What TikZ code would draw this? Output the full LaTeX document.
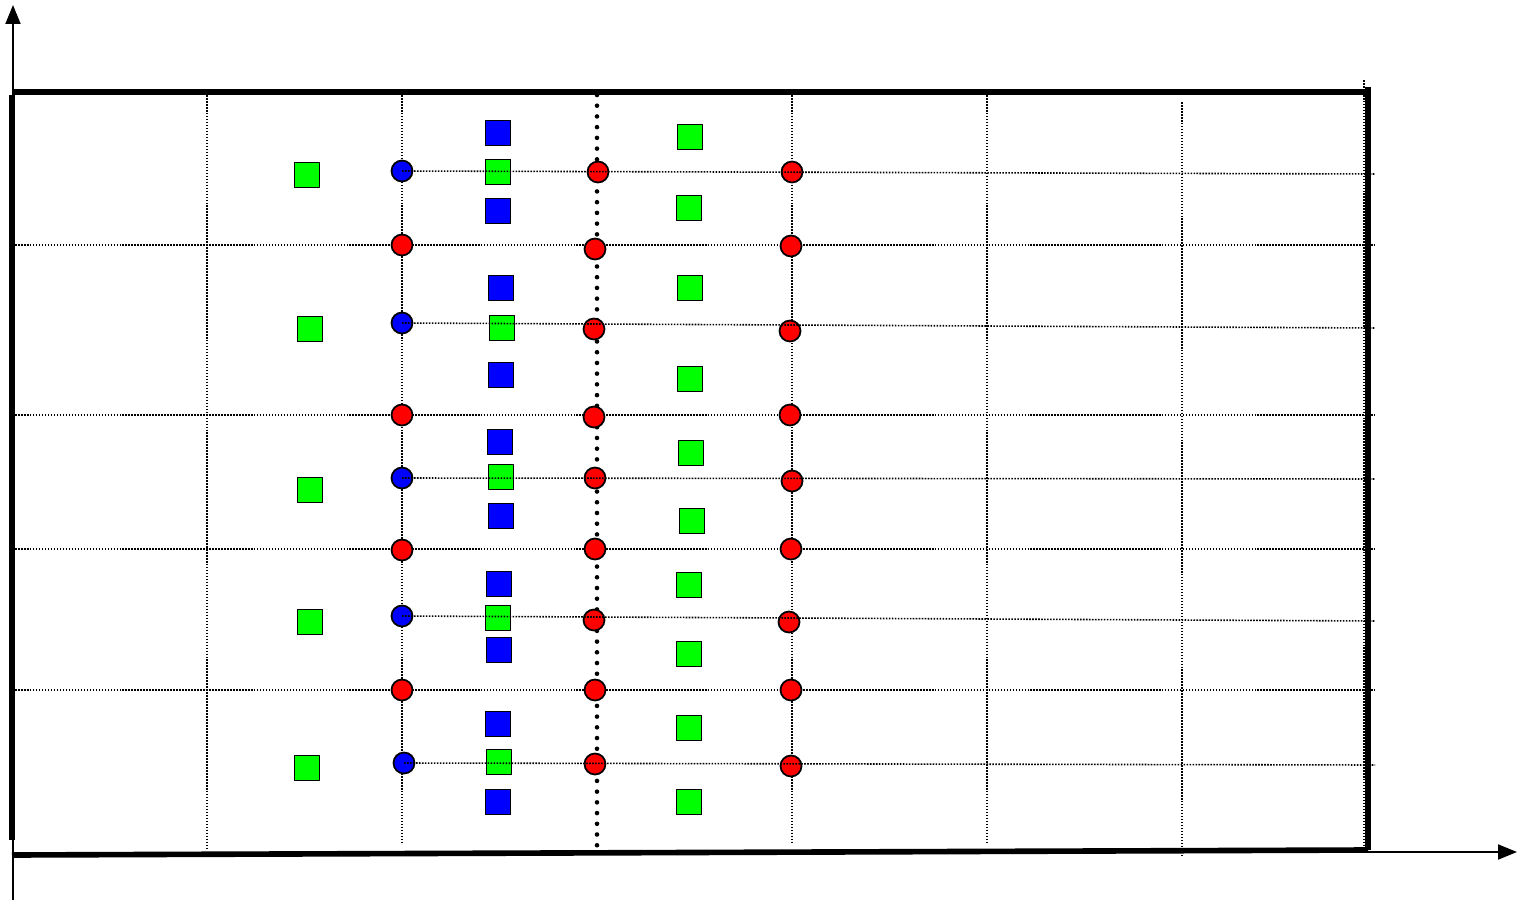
\documentclass[tikz,border=0pt]{standalone}
\usetikzlibrary{arrows.meta}

\definecolor{sqgreen}{RGB}{0,255,0}
\definecolor{sqblue}{RGB}{0,0,255}
\definecolor{dotred}{RGB}{255,0,0}

\tikzset{
    gridline/.style={line width=0.9pt, dash pattern=on 0.9pt off 0.8pt},
    bigdots/.style={line width=2.6pt, line cap=round, dash pattern=on 0pt off 6.1pt},
    frame/.style={line width=3.2pt},
    axis/.style={line width=1.1pt, -{Triangle[length=0.38cm, width=0.3cm]}},
    gsq/.style={draw, line width=1pt, fill=sqgreen, minimum size=0.5cm, inner sep=0pt},
    bsq/.style={draw, line width=1pt, fill=sqblue, minimum size=0.5cm, inner sep=0pt},
    bcirc/.style={draw, circle, line width=1pt, fill=sqblue, minimum size=0.42cm, inner sep=0pt},
    rcirc/.style={draw, circle, line width=1pt, fill=dotred, minimum size=0.42cm, inner sep=0pt}
}

\begin{document}
\begin{tikzpicture}[x=0.02cm, y=-0.02cm]
    \useasboundingbox (0,0) rectangle (1525,906);

    % Rejilla de fondo
    \foreach \x/\ya/\yb in {207/92/850, 402/92/842, 792/92/843, 987/92/843, 1182/102/856, 1364/80/850} {
        \draw[gridline] (\x,\ya) -- (\x,\yb);
    }
    \foreach \y in {245,415,549,690} {
        \draw[gridline] (9,\y) -- (1375,\y);
    }
    \draw[bigdots] (597,95) -- (597,850);

    % Ejes
    \draw[axis] (13,900) -- (13,5);
    \draw[axis] (1368,852) -- (1517,852);

    % Marco
    \draw[frame] (12,92) -- (1370,92);
    \draw[frame] (12,95) -- (12,840);
    \draw[frame] (1368,87) -- (1368,850);
    \draw[frame] (12,855) -- (1368,850);

    % Cuadrados verdes de la izquierda
    \foreach \i/\x/\y in {1/307/175, 2/310/329, 3/310/490, 4/310/622, 5/307/768} {
        \node[gsq] (gl\i) at (\x,\y) {};
    }

    % Columna de circulos azules y rojos
    \foreach \i/\x/\y in {1/402/171, 2/402/323, 3/402/478, 4/402/616, 5/404/763} {
        \node[bcirc] (b\i) at (\x,\y) {};
    }
    \foreach \i/\y in {1/245, 2/415, 3/550, 4/690} {
        \node[rcirc] (ra\i) at (402,\y) {};
    }

    % Columna central de cuadrados
    \foreach \i/\x/\y in {1/498/133, 2/498/211, 3/501/288, 4/501/375, 5/500/442,
                          6/501/516, 7/499/584, 8/499/650, 9/498/724, 10/498/802} {
        \node[bsq] (bs\i) at (\x,\y) {};
    }
    \foreach \i/\x/\y in {1/498/172, 2/502/328, 3/501/477, 4/498/618, 5/499/762} {
        \node[gsq] (gm\i) at (\x,\y) {};
    }

    % Circulos rojos sobre la linea gruesa
    \foreach \i/\x/\y in {1/598/172, 2/595/249, 3/594/329, 4/594/417, 5/595/478,
                          6/595/549, 7/594/620, 8/595/690, 9/595/764} {
        \node[rcirc] (rb\i) at (\x,\y) {};
    }

    % Cuadrados verdes de la derecha
    \foreach \i/\x/\y in {1/690/137, 2/689/208, 3/690/288, 4/690/379, 5/691/453,
                          6/692/521, 7/689/585, 8/689/654, 9/689/728, 10/689/802} {
        \node[gsq] (gr\i) at (\x,\y) {};
    }

    % Circulos rojos de la derecha
    \foreach \i/\x/\y in {1/792/172, 2/791/246, 3/790/331, 4/790/415, 5/792/481,
                          6/791/549, 7/789/622, 8/791/690, 9/791/766} {
        \node[rcirc] (rc\i) at (\x,\y) {};
    }

    % Lineas desde los circulos azules
    \foreach \i/\y in {1/174, 2/328, 3/479, 4/621, 5/765} {
        \draw[gridline] (b\i.center) -- (1375,\y);
    }
\end{tikzpicture}
\end{document}
